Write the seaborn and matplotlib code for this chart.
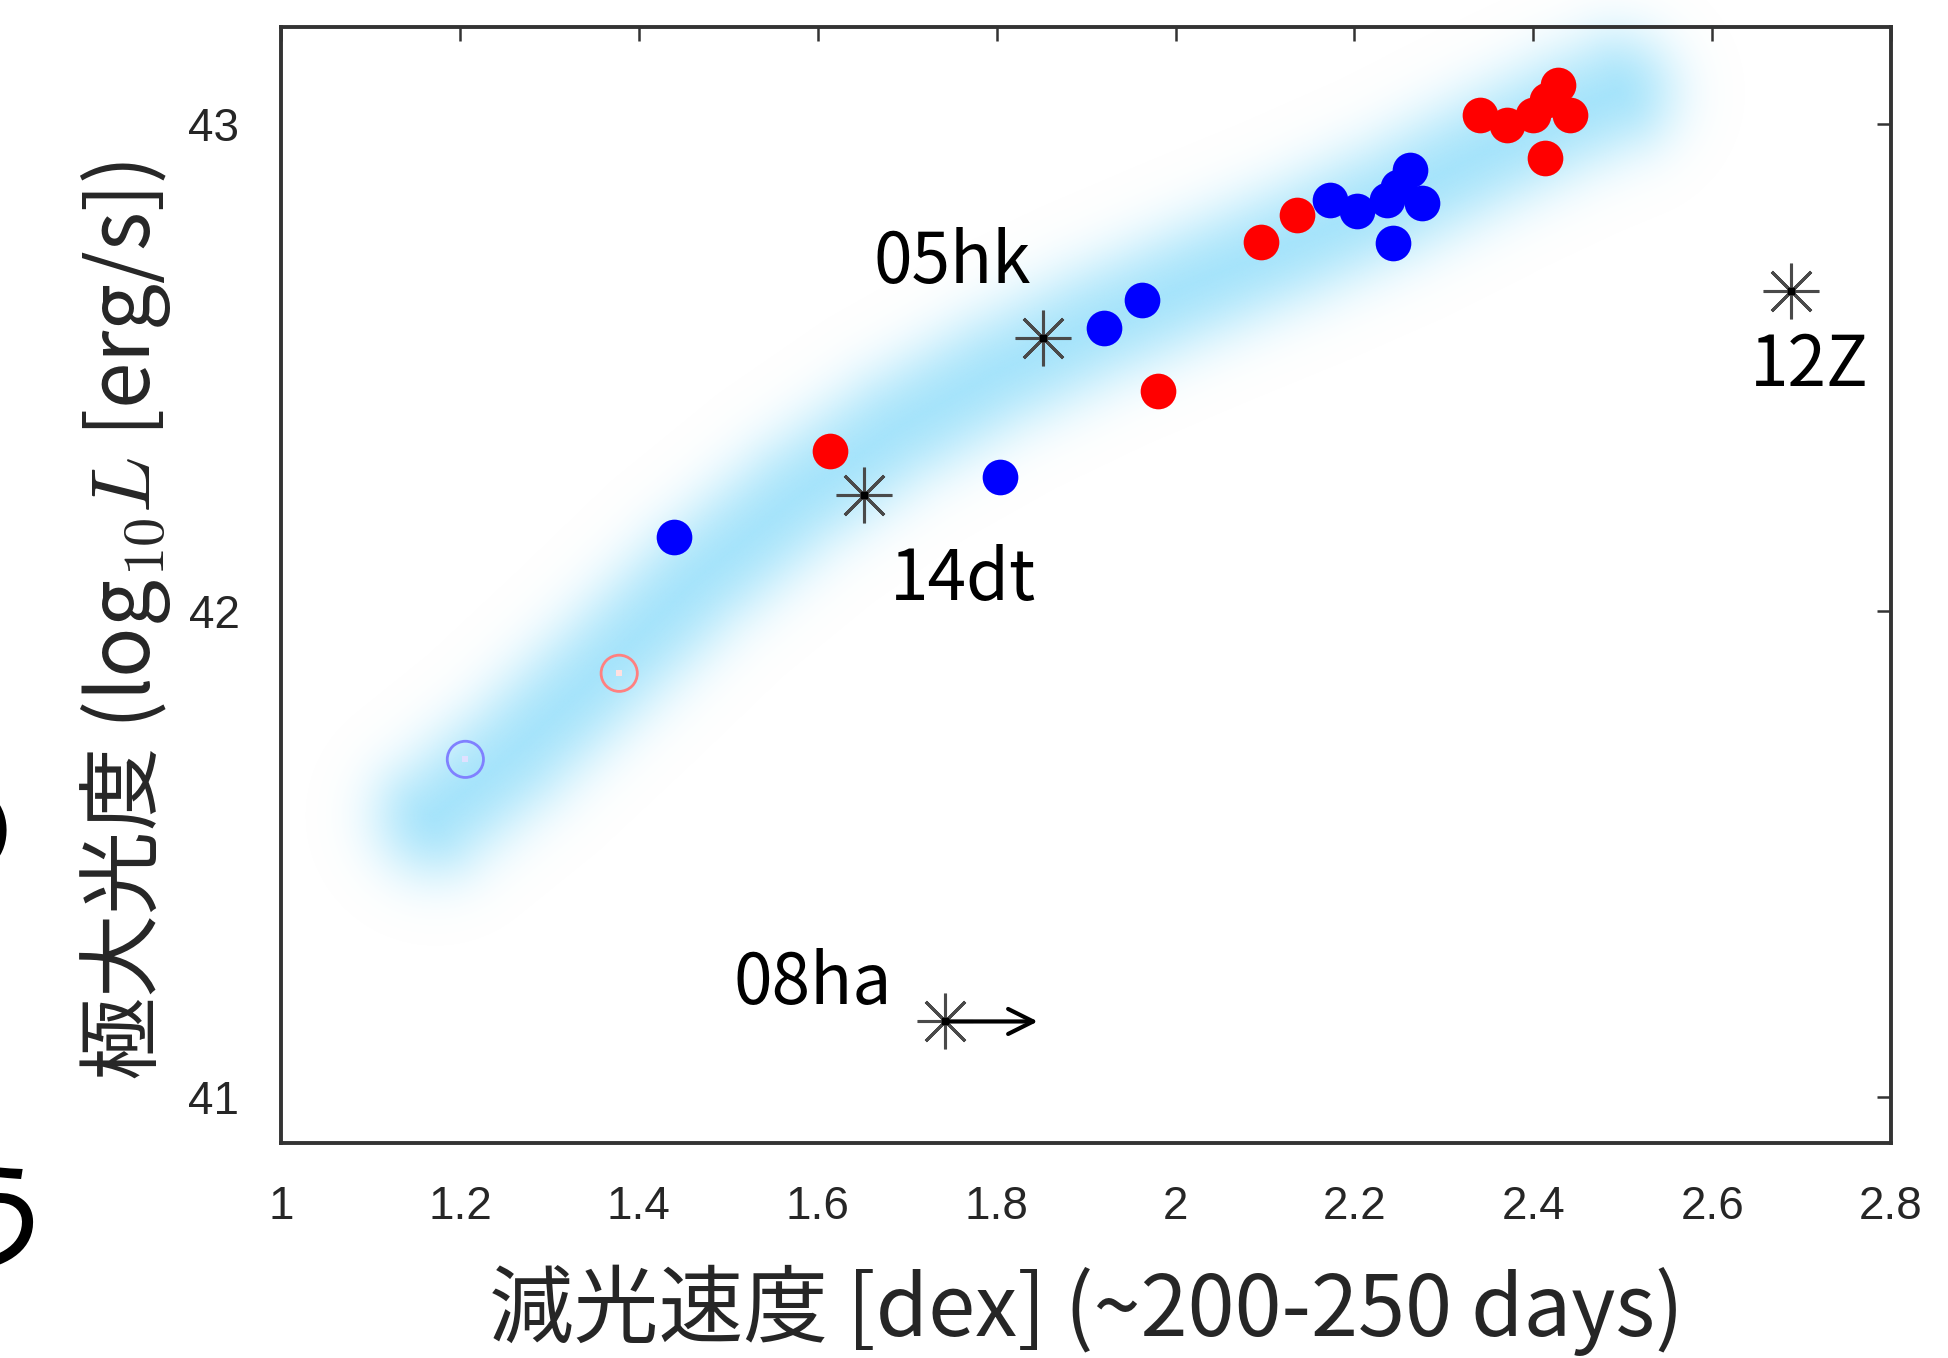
#Scatter of peak luminosity vs decline rate (recreation)

# Load Packages=====================================================================================
import math
import numpy as np
import matplotlib
matplotlib.use('Agg')
import matplotlib.pyplot as plt
from matplotlib import font_manager
import seaborn as sns


# Data==============================================================================================
## filled points (blue / red samples)
blue_x = [1.439, 1.804, 1.920, 1.962, 2.173, 2.203, 2.236, 2.249, 2.262, 2.276, 2.243]
blue_y = [42.152, 42.275, 42.581, 42.638, 42.845, 42.821, 42.845, 42.872, 42.906, 42.838, 42.756]
red_x = [1.614, 1.980, 2.096, 2.136, 2.340, 2.370, 2.400, 2.415, 2.428, 2.441, 2.413]
red_y = [42.328, 42.451, 42.758, 42.814, 43.020, 42.999, 43.020, 43.050, 43.081, 43.020, 42.930]

## open circles
open_blue_x = [1.206]
open_blue_y = [41.694]
open_red_x = [1.378]
open_red_y = [41.871]

## peculiar objects (asterisks) and their labels
sn_names = ['05hk', '14dt', '12Z', '08ha']
sn_x = [1.852, 1.652, 2.688, 1.742]
sn_y = [42.561, 42.238, 42.658, 41.155]
label_x = [1.750, 1.762, 2.709, 1.594]
label_y = [42.715, 42.063, 42.502, 41.232]
arrow_end_x = 1.846   # 08ha is a lower limit in decline rate

## centre line of the shaded band
band_x = [1.172, 1.260, 1.364, 1.464, 1.575, 1.686, 1.797, 1.908, 2.019, 2.130, 2.241, 2.352, 2.435, 2.491]
band_y = [41.577, 41.708, 41.887, 42.064, 42.231, 42.372, 42.487, 42.585, 42.672, 42.756, 42.846, 42.949, 43.021, 43.064]

## axes
xticks = [1, 1.2, 1.4, 1.6, 1.8, 2, 2.2, 2.4, 2.6, 2.8]
xtick_labels = ['1', '1.2', '1.4', '1.6', '1.8', '2', '2.2', '2.4', '2.6', '2.8']
yticks = [41, 42, 43]
xlim = (1, 2.8)
ylim = (40.905, 43.2)


# Style=============================================================================================
sns.set_theme(style='white')
plt.rcParams['font.family'] = ['Noto Sans CJK JP', 'DejaVu Sans']
plt.rcParams['mathtext.fontset'] = 'cm'

installed = {f.name for f in font_manager.fontManager.ttflist}
tick_family = 'Liberation Sans Narrow' if 'Liberation Sans Narrow' in installed else 'Liberation Sans'


# Figure============================================================================================
W_PX, H_PX = 1948, 1358
fig = plt.figure(figsize=(W_PX / 100, H_PX / 100), dpi=100, facecolor='white')
ax = fig.add_axes([0.1443, 0.1583, 0.8265, 0.8218])
ax.set_facecolor('white')

## glowing band: blurred thick line, built from distance to the centre line (pixel units)
ax_w = 0.8265 * W_PX
ax_h = 0.8218 * H_PX
sx = ax_w / (xlim[1] - xlim[0])
sy = ax_h / (ylim[1] - ylim[0])
ytop = 43.26
gx = np.linspace(xlim[0], xlim[1], 900)
gy = np.linspace(ylim[0], ytop, 700)
GX, GY = np.meshgrid((gx - xlim[0]) * sx, (gy - ylim[0]) * sy)
bx = (np.array(band_x) - xlim[0]) * sx
by = (np.array(band_y) - ylim[0]) * sy
dist = np.full(GX.shape, np.inf)
for i in range(len(bx) - 1):
  ux, uy = bx[i + 1] - bx[i], by[i + 1] - by[i]
  t = ((GX - bx[i]) * ux + (GY - by[i]) * uy) / (ux * ux + uy * uy)
  t = np.clip(t, 0, 1)
  d = np.hypot(GX - (bx[i] + t * ux), GY - (by[i] + t * uy))
  dist = np.minimum(dist, d)
half_w, blur = 50.0, 30.0
erf = np.vectorize(math.erf)
alpha = 0.5 * (1 + erf((half_w - dist) / (blur * np.sqrt(2))))
alpha = alpha / (0.5 * (1 + math.erf(half_w / (blur * np.sqrt(2)))))
alpha = np.clip(alpha, 0, 1)
rgba = np.zeros(GX.shape + (4,))
rgba[..., 0] = 166 / 255
rgba[..., 1] = 228 / 255
rgba[..., 2] = 251 / 255
rgba[..., 3] = alpha
img = ax.imshow(rgba, origin='lower', extent=[xlim[0], xlim[1], ylim[0], ytop],
                aspect='auto', interpolation='bilinear', zorder=0)
img.set_clip_on(False)

## filled points
sns.scatterplot(x=blue_x, y=blue_y, color='#0000ff', s=660, linewidth=0, ax=ax, zorder=3)
sns.scatterplot(x=red_x, y=red_y, color='#ff0000', s=660, linewidth=0, ax=ax, zorder=3)

## open circles
ax.scatter(open_blue_x, open_blue_y, s=680, facecolors='none', edgecolors='#8080ff', linewidths=2.0, zorder=3)
ax.scatter(open_red_x, open_red_y, s=680, facecolors='none', edgecolors='#ff8080', linewidths=2.0, zorder=3)
ax.scatter(open_blue_x, open_blue_y, s=14, marker='s', color='#e0e0ff', linewidths=0, zorder=3)
ax.scatter(open_red_x, open_red_y, s=14, marker='s', color='#ffe0e0', linewidths=0, zorder=3)

## asterisks
ax.plot(sn_x, sn_y, linestyle='none', marker=(8, 2, 0), markersize=40, mew=2.2, color='#4a4a4a', zorder=4)
ax.plot(sn_x, sn_y, linestyle='none', marker='s', markersize=5, color='black', zorder=5)
for name, lx, ly in zip(sn_names, label_x, label_y):
  ax.text(lx, ly, name, fontsize=50, ha='center', va='center', color='black', zorder=5)

## arrow for 08ha
ax.annotate('', xy=(arrow_end_x, sn_y[3]), xytext=(sn_x[3], sn_y[3]),
            arrowprops=dict(arrowstyle='->', lw=3.0, color='black', mutation_scale=45,
                            shrinkA=0, shrinkB=0), zorder=5)

## axes, ticks, labels
ax.set_xlim(*xlim)
ax.set_ylim(*ylim)
ax.set_xticks(xticks)
ax.set_xticklabels(xtick_labels)
ax.set_yticks(yticks)
ax.tick_params(direction='in', top=True, right=True, length=10, width=1.8, color='#333333',
               labelsize=33, labelcolor='#262626', pad=30)
for lab in ax.get_xticklabels() + ax.get_yticklabels():
  lab.set_family(tick_family)
for sp in ax.spines.values():
  sp.set_color('#333333')
  sp.set_linewidth(2.8)
  sp.set_zorder(6)

ax.set_xlabel('減光速度 [dex] (~200-250 days)', fontsize=61, labelpad=26)
ax.set_ylabel('極大光度 (log$_{10}L$ [erg/s])', fontsize=60)
ax.yaxis.set_label_coords(-0.067, 0.468)

## partly cut-off characters at the left edge of the slide
fig.text(18 / W_PX, 1 - 838 / H_PX, 'の', fontsize=94, ha='right', va='center', color='black')
fig.text(58 / W_PX, 1 - 1228 / H_PX, 'う', fontsize=94, ha='right', va='center', color='black')

fig.savefig('out.png', dpi=100, facecolor='white')
plt.close()
